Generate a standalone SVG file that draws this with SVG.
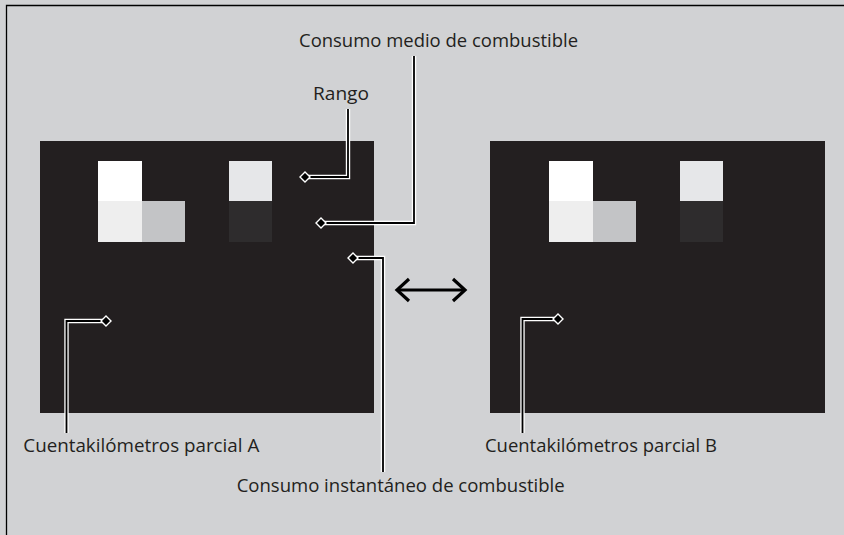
<svg xmlns="http://www.w3.org/2000/svg" width="844" height="535" viewBox="0 0 844 535">
<style>
.lbl{font-family:"Open Sans","Liberation Sans",sans-serif;font-size:17.5px;fill:#231f20}
.panel{fill:#231f20}
.halo{fill:none;stroke:#ffffff;stroke-width:4.4;stroke-linejoin:miter;stroke-linecap:butt}
.ln{fill:none;stroke:#000000;stroke-width:1.8;stroke-linejoin:miter;stroke-linecap:butt}
.dia{fill:#000000;stroke:#ffffff;stroke-width:1.4}
.arr{fill:none;stroke:#000000;stroke-width:3.2;stroke-linecap:butt;stroke-linejoin:miter}
</style>
<defs>
<path id="dm" d="M-5,0 L0,-5 L5,0 L0,5 Z"/>
</defs>
<rect x="0" y="0" width="844" height="535" fill="#d1d2d4"/>
<path d="M6.5,535 V5.5 H844" fill="none" stroke="#000" stroke-width="1.3"/>

<g id="display-A">
<rect class="panel" x="40" y="141" width="334" height="272"/>
<rect x="98" y="161" width="44" height="40" fill="#ffffff"/>
<rect x="98" y="201" width="44" height="41" fill="#eeeeee"/>
<rect x="142" y="201" width="43" height="41" fill="#c3c4c6"/>
<rect x="229" y="161" width="43" height="40" fill="#e6e7e9"/>
<rect x="229" y="201" width="43" height="41" fill="#2e2c2d"/>
</g>

<g id="display-B">
<rect class="panel" x="490" y="141" width="335" height="272"/>
<rect x="549" y="161" width="44" height="40" fill="#ffffff"/>
<rect x="549" y="201" width="44" height="41" fill="#eeeeee"/>
<rect x="593" y="201" width="43" height="41" fill="#c3c4c6"/>
<rect x="680" y="161" width="43" height="40" fill="#e6e7e9"/>
<rect x="680" y="201" width="43" height="41" fill="#2e2c2d"/>
</g>

<g id="connectors">
<path class="halo" d="M305,177 H348 V109"/>
<path class="halo" d="M321,223 H414 V56"/>
<path class="halo" d="M353,258 H383 V472"/>
<path class="halo" d="M106,321 H66.5 V433"/>
<path class="halo" d="M558,319 H522.5 V433"/>
<path class="ln" d="M305,177 H348 V109"/>
<path class="ln" d="M321,223 H414 V56"/>
<path class="ln" d="M353,258 H383 V472"/>
<path class="ln" d="M106,321 H66.5 V433"/>
<path class="ln" d="M558,319 H522.5 V433"/>
<use href="#dm" class="dia" x="305" y="177"/>
<use href="#dm" class="dia" x="321" y="223"/>
<use href="#dm" class="dia" x="353" y="258"/>
<use href="#dm" class="dia" x="106" y="321"/>
<use href="#dm" class="dia" x="558" y="319"/>
<g id="swap-arrow">
<path class="arr" d="M397,290 H465"/>
<path class="arr" d="M409,279 L397,290 L409,301"/>
<path class="arr" d="M453,279 L465,290 L453,301"/>
</g>
</g>

<g id="label-medio"><text class="lbl" x="299" y="47" textLength="279" lengthAdjust="spacingAndGlyphs">Consumo medio de combustible</text></g>
<g id="label-rango"><text class="lbl" x="313" y="100" textLength="56" lengthAdjust="spacingAndGlyphs">Rango</text></g>
<g id="label-A"><text class="lbl" x="23.3" y="451.7" textLength="236" lengthAdjust="spacingAndGlyphs">Cuentakilómetros parcial A</text></g>
<g id="label-B"><text class="lbl" x="485" y="451.7" textLength="232" lengthAdjust="spacingAndGlyphs">Cuentakilómetros parcial B</text></g>
<g id="label-inst"><text class="lbl" x="236.7" y="491.7" textLength="328" lengthAdjust="spacingAndGlyphs">Consumo instantáneo de combustible</text></g>
</svg>
